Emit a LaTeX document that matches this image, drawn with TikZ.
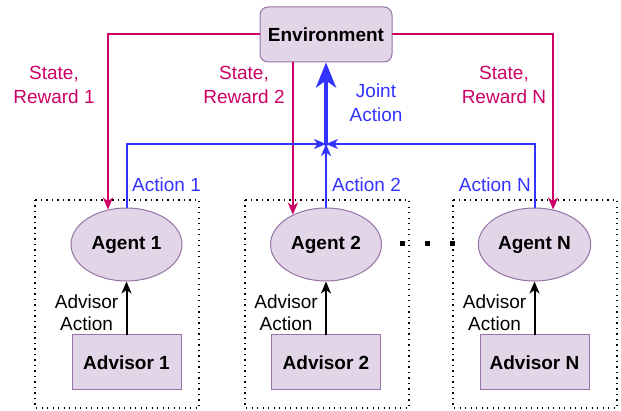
\documentclass[tikz,border=0pt]{standalone}
\usepackage{fontspec}
\setmainfont{Liberation Sans}
\usetikzlibrary{arrows.meta,shapes.geometric}

\definecolor{stateclr}{HTML}{CC0066}
\definecolor{actclr}{HTML}{3333FF}
\definecolor{nodefill}{HTML}{E1D5E7}
\definecolor{nodeline}{HTML}{9673A6}

\def\agy{244.5}
\def\advy{362.5}

\begin{document}
\begin{tikzpicture}[x=1pt, y=-1pt, line cap=round,
    >={Stealth[length=12pt,width=10pt,inset=3.5pt]},
    every node/.style={font=\fontsize{19}{24}\selectfont},
    block/.style={draw=nodeline, fill=nodefill, line width=1pt,
                  font=\fontsize{19}{24}\selectfont\bfseries},
    agent/.style={block, ellipse, minimum width=111pt, minimum height=73pt},
    advisor/.style={block, rectangle, minimum width=109pt, minimum height=55pt},
    envbox/.style={block, rounded corners=8pt, minimum width=132pt, minimum height=55pt},
    statelbl/.style={text=stateclr, align=center},
    actlbl/.style={text=actclr, inner sep=0pt},
    advlbl/.style={align=center, inner sep=0pt, font=\fontsize{19}{22}\selectfont},
    stateline/.style={draw=stateclr, line width=2pt, ->},
    actline/.style={draw=actclr, line width=2pt, ->},
    jointline/.style={draw=actclr, line width=4.5pt,
                      -{Stealth[length=25pt,width=20pt,inset=7pt]}},
    advline/.style={draw=black, line width=2pt, ->},
    groupbox/.style={draw=black, line width=1.4pt, line cap=butt,
                     dash pattern=on 1.4pt off 4.1pt}
   ]

    \useasboundingbox (0,0) rectangle (621,411);

    \node[envbox] (env) at (326,34.5) {Environment};

    % one dotted group per agent
    \foreach \i/\lbl/\cx/\bx in {1/1/126.5/35, 2/2/326/245, 3/N/534.5/453}{
        \draw[groupbox] (\bx,200) rectangle ++(164,208);
        \node[agent] (agent\i) at (\cx,\agy) {Agent \lbl};
        \node[advisor] (adv\i) at (\cx,\advy) {Advisor \lbl};
        \draw[advline] (adv\i) -- (agent\i);
        \node[advlbl, anchor=east] (advlbl\i) at (\cx-8,313) {Advisor\\Action};
    }

    \foreach \dx in {402,427,452}
        \fill (\dx-2.5,241) rectangle ++(5,5);

    \node[statelbl] (sr1) at (54,85) {State,\\Reward 1};
    \node[statelbl] (sr2) at (244,85) {State,\\Reward 2};
    \node[statelbl] (sr3) at (504,85) {State,\\Reward N};
    \node[actlbl, align=center] (jointlbl) at (376,103) {Joint\\Action};

    \draw[stateline] (env.west) -| (agent1.118);
    \draw[stateline] (env.south -| agent2.138) -- (agent2.138);
    \draw[stateline] (env.east) -| (agent3.62);

    \coordinate (join) at (326,144);
    \draw[actline] (agent1.north) |- (join);
    \draw[actline] (agent2.north) -- (join);
    \draw[actline] (agent3.north) |- (join);
    \draw[jointline] (join) -- (env.south);

    \node[actlbl, anchor=west] (act1) at (132,185) {Action 1};
    \node[actlbl, anchor=west] (act2) at (332,185) {Action 2};
    \node[actlbl, anchor=east] (act3) at (531,185) {Action N};

\end{tikzpicture}
\end{document}
